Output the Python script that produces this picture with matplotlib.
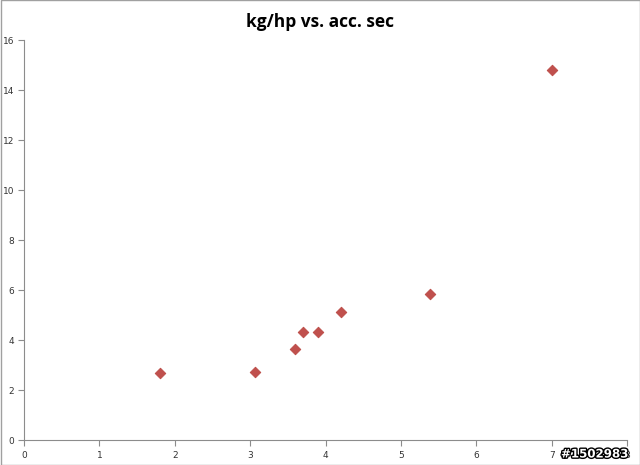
import matplotlib
matplotlib.use("Agg")
import matplotlib.pyplot as plt
from matplotlib.patches import Rectangle
import matplotlib.patheffects as pe

acc_sec = [1.8, 3.06, 3.6, 3.7, 3.9, 4.2, 5.38, 7.0]
kg_per_hp = [2.68, 2.72, 3.64, 4.32, 4.32, 5.12, 5.84, 14.8]
x_ticks = [0, 1, 2, 3, 4, 5, 6, 7, 8]
y_ticks = [0, 2, 4, 6, 8, 10, 12, 14, 16]
title = "kg/hp vs. acc. sec"

fig = plt.figure(figsize=(6.4, 4.65), dpi=100)
ax = fig.add_axes([24/640, 1-440/465, (627-24)/640, 400/465])
ax.scatter(acc_sec, kg_per_hp, marker="D", s=30, color="#C0504D", edgecolors="#B9443F", linewidths=0.5, zorder=3)
ax.set_xlim(0, 8)
ax.set_ylim(0, 16)
ax.set_xticks(x_ticks)
ax.set_yticks(y_ticks)
for s in ["top", "right"]:
    ax.spines[s].set_visible(False)
for s in ["left", "bottom"]:
    ax.spines[s].set_color("#8c8c8c")
    ax.spines[s].set_linewidth(0.8)
ax.tick_params(axis="both", colors="#8c8c8c", labelcolor="#333333", labelsize=6.5, length=4, width=0.8, direction="out")
ax.tick_params(axis="x", pad=4)
ax.tick_params(axis="y", pad=3)
fig.text(0.5, 1-22/465, title, ha="center", va="center", fontsize=12.5, fontweight="bold", family=["Open Sans", "DejaVu Sans"])
fig.patches.append(Rectangle((0.5/640, 0.5/465), 1-1/640, 1-1/465, transform=fig.transFigure, fill=False, edgecolor="#a0a0a0", linewidth=1))
fig.text(1-12/640, 11/465, "#1502983", ha="right", va="center", fontsize=8.5, color="white", fontweight="bold",
         family=["Liberation Sans Narrow", "DejaVu Sans"],
         path_effects=[pe.withStroke(linewidth=2, foreground="black")], zorder=10)
fig.savefig("out.png", dpi=100)
